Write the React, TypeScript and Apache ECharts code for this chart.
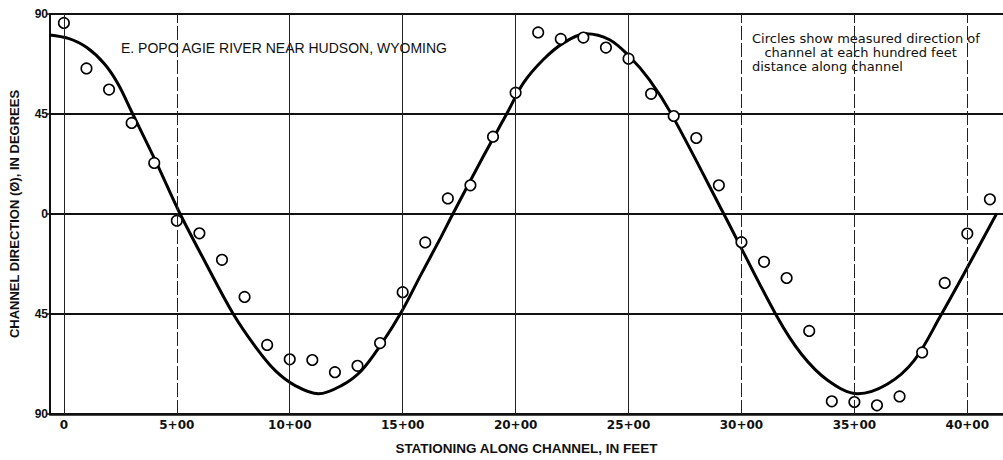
import React, { useEffect, useRef } from "react";
import * as echarts from "echarts";

// Measured channel direction (degrees) at each hundred feet of stationing
const stations = [
  0, 1, 2, 3, 4, 5, 6, 7, 8, 9, 10, 11, 12, 13, 14, 15, 16, 17, 18, 19, 20,
  21, 22, 23, 24, 25, 26, 27, 28, 29, 30, 31, 32, 33, 34, 35, 36, 37, 38, 39, 40, 41,
];
const measuredDirection = [
  86, 65.5, 56, 41, 23, -3, -8.7, -20.6, -37.3, -58.9, -65.4, -65.7, -71.2, -68.3,
  -58.1, -35.2, -12.8, 7, 12.9, 34.8, 54.6, 81.7, 78.8, 79.4, 74.9, 69.9, 54.1,
  44.1, 34.2, 12.9, -12.7, -21.5, -28.8, -52.6, -84.3, -84.6, -86.1, -82.1, -62.3,
  -31, -8.8, 6.6,
];

// Fitted curve
const curveStations = [
  -0.62, 0.2, 1.0, 1.8, 2.4, 3.0, 4.1, 5.1, 6.3, 7.5, 8.5, 9.36, 10.24, 11.27,
  12.29, 13.17, 14.05, 14.95, 15.81, 16.69, 17.22, 18.59, 19.62, 20.35, 21.23,
  22.11, 23.13, 24.16, 25.04, 25.92, 26.87, 29.22, 31.56, 32.66, 33.83, 35.15,
  36.47, 37.64, 38.81, 39.99, 41.3,
];
const curveDirection = [
  80.6, 79, 75, 67.5, 58.5, 46, 23, 1, -22.5, -45, -60, -70.5, -77.2, -80.9,
  -77.2, -70.5, -58.6, -44, -27.3, -10.5, 0, 26.3, 45.3, 59, 69.5, 76.9, 81.1,
  78.4, 70.9, 60.5, 45.5, 0, -45.9, -63.1, -74.9, -80.9, -76.5, -66, -45.9, -24.3,
  0.2,
];

const xTickValues = [0, 5, 10, 15, 20, 25, 30, 35, 40];
const dashedGridStations = [5, 30, 35, 40];

const titleText = "E. POPO AGIE RIVER NEAR HUDSON, WYOMING";
const noteLines = [
  "Circles show measured direction of",
  "   channel at each hundred feet",
  "distance along channel",
];

export default function App() {
  const ref = useRef<HTMLDivElement>(null);

  useEffect(() => {
    if (!ref.current) return;
    const chart = echarts.init(ref.current, undefined, { renderer: "svg" });
    const font = "Liberation Sans";
    const wide = "DejaVu Sans";

    const option = {
      animation: false,
      backgroundColor: "#ffffff",
      grid: { left: 43, right: 0, top: 14, bottom: 43 },
      xAxis: {
        type: "value",
        min: -0.615,
        max: 41.58,
        name: "STATIONING ALONG CHANNEL, IN FEET",
        nameLocation: "middle",
        nameGap: 27,
        nameTextStyle: { fontFamily: font, fontWeight: "bold", fontSize: 13.5, color: "#111" },
        axisLine: { show: true, onZero: false, lineStyle: { color: "#111", width: 2.5 } },
        axisTick: { show: false },
        splitLine: { show: false },
        axisLabel: {
          customValues: xTickValues,
          margin: 5,
          fontFamily: wide,
          fontWeight: "bold",
          fontSize: 12,
          color: "#111",
          formatter: (v: number) => (v === 0 ? "0" : `${v}+00`),
        },
      },
      yAxis: {
        type: "value",
        min: -90,
        max: 90,
        interval: 45,
        name: "CHANNEL DIRECTION (Ø), IN DEGREES",
        nameLocation: "middle",
        nameGap: 29,
        nameRotate: 90,
        nameTextStyle: { fontFamily: font, fontWeight: "bold", fontSize: 13, color: "#111" },
        axisLine: { show: true, onZero: false, lineStyle: { color: "#111", width: 2 } },
        axisTick: { show: true, length: 3, lineStyle: { color: "#111", width: 1.5 } },
        splitLine: { show: true, lineStyle: { color: "#111", width: 2 } },
        axisLabel: {
          margin: 2,
          fontFamily: font,
          fontWeight: "bold",
          fontSize: 12,
          color: "#111",
          formatter: (v: number) => String(Math.abs(v)),
        },
      },
      graphic: [
        {
          type: "text",
          left: 121,
          top: 41,
          style: { text: titleText, fontFamily: font, fontSize: 14, fill: "#111" },
        },
        ...noteLines.map((t, i) => ({
          type: "text",
          left: 752,
          top: 32 + i * 14,
          style: { text: t, fontFamily: wide, fontSize: 13, fill: "#111" },
        })),
      ],
      series: [
        {
          type: "line",
          silent: true,
          data: [],
          markLine: {
            silent: true,
            symbol: "none",
            label: { show: false },
            data: xTickValues.map((v) => ({
              xAxis: v,
              lineStyle: {
                color: "#222",
                width: 1,
                type: dashedGridStations.includes(v) ? [14, 3] : "solid",
              },
            })),
          },
        },
        {
          type: "line",
          smooth: 0.35,
          showSymbol: false,
          silent: true,
          lineStyle: { color: "#000", width: 3 },
          data: curveStations.map((s, i) => [s, curveDirection[i]]),
          z: 3,
        },
        {
          type: "scatter",
          symbol: "circle",
          symbolSize: 10.5,
          itemStyle: { color: "#ffffff", borderColor: "#000", borderWidth: 1.6, opacity: 1 },
          data: stations.map((s, i) => [s, measuredDirection[i]]),
          z: 4,
        },
      ],
    };

    chart.setOption(option as any);
    return () => chart.dispose();
  }, []);

  return (
    <div
      ref={ref}
      style={{ position: "absolute", left: 0, top: 0, width: 1003, height: 460 }}
    />
  );
}
